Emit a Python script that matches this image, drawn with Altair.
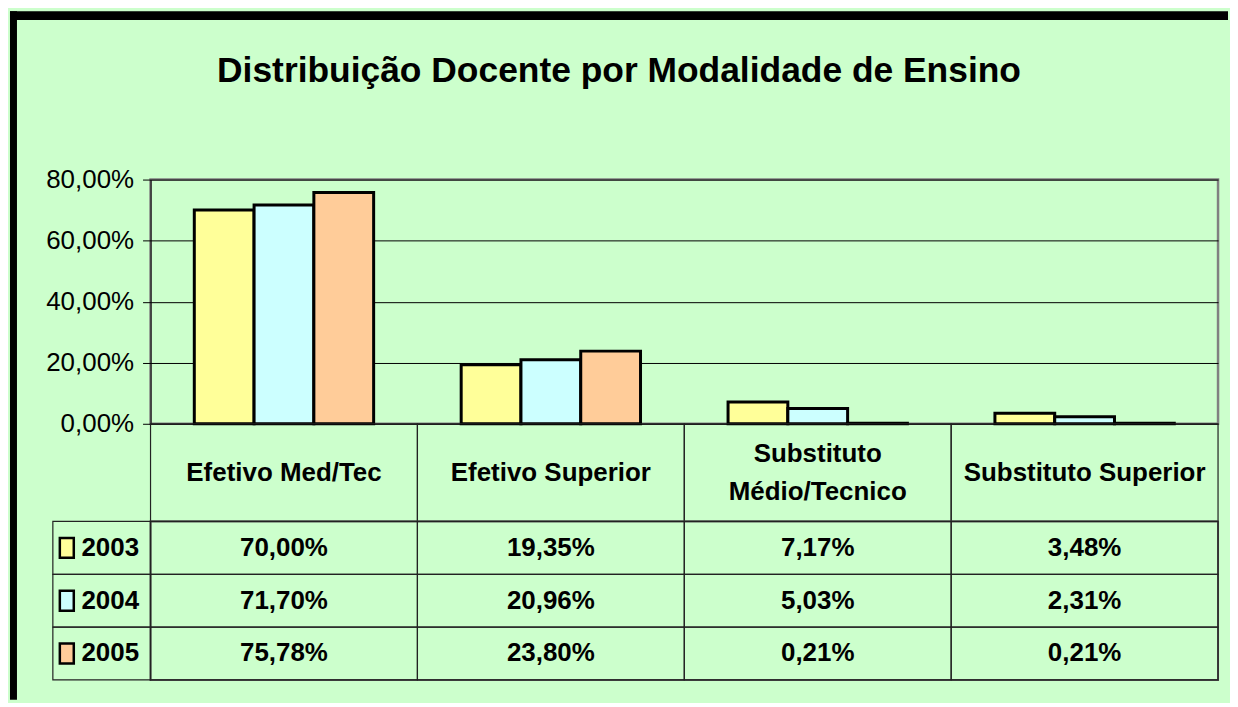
import altair as alt
import pandas as pd

# ---------------- data ----------------
categories = ["Efetivo Med/Tec", "Efetivo Superior", "Substituto Médio/Tecnico", "Substituto Superior"]
category_labels = ["Efetivo Med/Tec", "Efetivo Superior", "Substituto\nMédio/Tecnico", "Substituto Superior"]
years = ["2003", "2004", "2005"]
values_2003 = [70.00, 19.35, 7.17, 3.48]
values_2004 = [71.70, 20.96, 5.03, 2.31]
values_2005 = [75.78, 23.80, 0.21, 0.21]
year_colors = ["#FFFF99", "#CCFFFF", "#FFCC99"]
y_ticks = [0, 20, 40, 60, 80]
title_text = "Distribuição Docente por Modalidade de Ensino"

rows = []
for yr, vals in zip(years, [values_2003, values_2004, values_2005]):
    for c, v in zip(categories, vals):
        rows.append({"categoria": c, "ano": yr, "valor": v,
                     "rotulo": f"{v:.2f}".replace(".", ",") + "%"})
df = pd.DataFrame(rows)
head_df = pd.DataFrame({"categoria": categories, "rotulo": category_labels,
                        "linhas": [lbl.count("\n") + 1 for lbl in category_labels]})
year_df = pd.DataFrame({"ano": years})

# ---------------- style ----------------
FONT = "Liberation Sans"
W = 1071
H_BARS = 245
H_HEAD = 98
H_TABLE = 159
BG = "#CCFFCC"
LINE_H = 38
TXT = 26

color_scale = alt.Scale(domain=years, range=year_colors)
x_bars = alt.Scale(domain=categories, paddingInner=0.328, paddingOuter=0.164)
x_table = alt.Scale(domain=categories, paddingInner=0, paddingOuter=0)
y_table = alt.Scale(domain=years, paddingInner=0, paddingOuter=0)

# ---------------- bar chart ----------------
frame_src = pd.DataFrame({"k": [0]})
top_band = alt.Chart(frame_src).mark_rect(color="black").encode(
    x=alt.value(-141), x2=alt.value(1081), y=alt.value(-169), y2=alt.value(-160))
left_band = alt.Chart(frame_src).mark_rect(color="black").encode(
    x=alt.value(-141), x2=alt.value(-134), y=alt.value(-169), y2=alt.value(522))
title = alt.Chart(pd.DataFrame({"t": [title_text]})).mark_text(
    font=FONT, fontSize=35.5, fontWeight="bold", align="center",
    baseline="alphabetic", color="black").encode(
    text="t:N", x=alt.value(470), y=alt.value(-98))

bars = alt.Chart(df).mark_bar(stroke="black", strokeWidth=3).encode(
    x=alt.X("categoria:N", scale=x_bars, axis=None),
    xOffset=alt.XOffset("ano:N", scale=alt.Scale(domain=years, paddingInner=0, paddingOuter=0)),
    y=alt.Y("valor:Q", scale=alt.Scale(domain=[0, 80], nice=False),
            axis=alt.Axis(values=y_ticks, title=None,
                          labelExpr="replace(format(datum.value, '.2f'), '.', ',') + '%'",
                          labelFont=FONT, labelFontSize=26, labelColor="black",
                          tickColor="black", tickSize=8, tickWidth=1, labelPadding=9,
                          domainColor="black", domainWidth=1,
                          gridColor="black", gridWidth=1, gridOpacity=1)),
    fill=alt.Fill("ano:N", scale=color_scale, legend=None),
)

bar_chart = alt.layer(top_band, left_band, title, bars).properties(
    width=W, height=H_BARS,
    view=alt.ViewBackground(stroke="#808080", strokeWidth=2.5))

# ---------------- header row ----------------
x_head = alt.X("categoria:N", scale=x_table, axis=None)
head_cells = alt.Chart(head_df).mark_rect(filled=False, stroke="#222222", strokeWidth=1.2).encode(
    x=x_head)
head_text_1 = alt.Chart(head_df).transform_filter("datum.linhas == 1").mark_text(
    font=FONT, fontSize=TXT, fontWeight="bold", color="black",
    align="center", baseline="middle").encode(x=x_head, text="rotulo:N")
head_text_2 = alt.Chart(head_df).transform_filter("datum.linhas == 2").mark_text(
    font=FONT, fontSize=TXT, fontWeight="bold", lineBreak="\n", lineHeight=LINE_H,
    dy=-LINE_H / 2, color="black", align="center", baseline="middle").encode(
    x=x_head, text="rotulo:N")
header = alt.layer(head_cells, head_text_1, head_text_2).properties(
    width=W, height=H_HEAD, view=alt.ViewBackground(stroke="transparent"))

# ---------------- data table ----------------
y_enc = alt.Y("ano:N", scale=y_table,
              axis=alt.Axis(title=None, ticks=False, domain=False, labelFont=FONT,
                            labelFontSize=TXT, labelFontWeight="bold",
                            labelColor="black", labelPadding=12))
cells = alt.Chart(df).mark_rect(filled=False, stroke="#222222", strokeWidth=1.2).encode(
    x=alt.X("categoria:N", scale=x_table, axis=None), y=y_enc)
legend_cells = alt.Chart(year_df).mark_rect(filled=False, stroke="#222222", strokeWidth=1.2).encode(
    x=alt.value(-98), x2=alt.value(0), y=alt.Y("ano:N", scale=y_table))
swatches = alt.Chart(year_df).mark_point(
    filled=True, shape="M-0.7,-1L0.7,-1L0.7,1L-0.7,1Z", size=400,
    stroke="black", strokeWidth=2.5, opacity=1).encode(
    x=alt.value(-84), y=alt.Y("ano:N", scale=y_table),
    fill=alt.Fill("ano:N", scale=color_scale, legend=None))
cell_text = alt.Chart(df).mark_text(
    font=FONT, fontSize=TXT, fontWeight="bold", color="black",
    align="center", baseline="middle").encode(
    x=alt.X("categoria:N", scale=x_table, axis=None),
    y=alt.Y("ano:N", scale=y_table), text="rotulo:N")
table = alt.layer(cells, legend_cells, swatches, cell_text).properties(
    width=W, height=H_TABLE, view=alt.ViewBackground(stroke="#555555", strokeWidth=2))

chart = alt.vconcat(bar_chart, header, table, spacing=0, bounds="flush",
                    padding=0, background=BG).resolve_scale(
    x="independent", y="independent")

chart.save("out.html", embed_options={"renderer": "svg", "actions": False})
